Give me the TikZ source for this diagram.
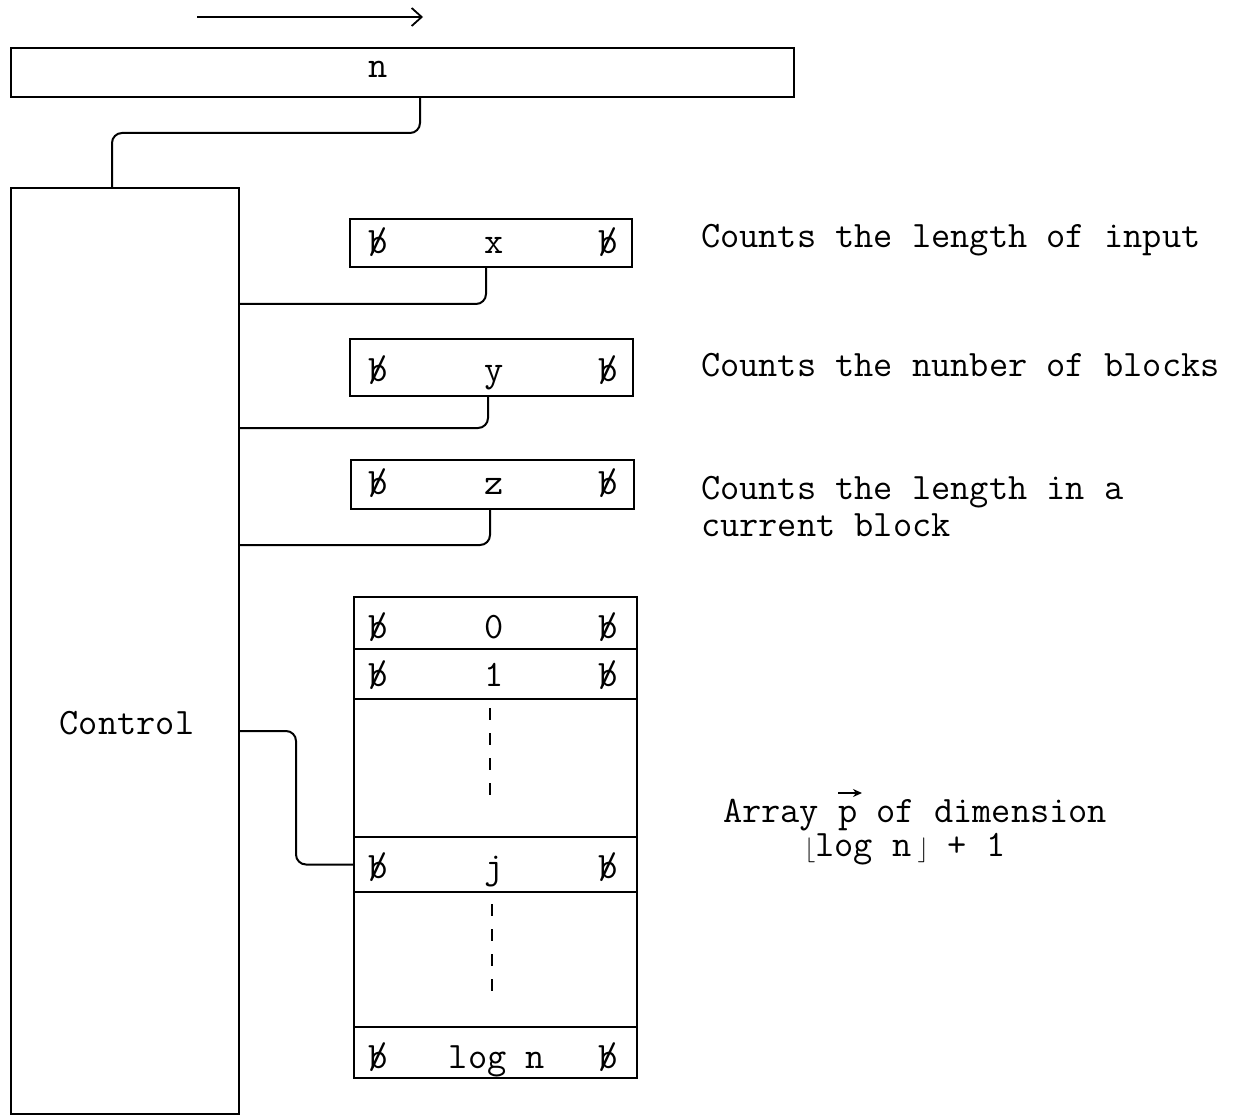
\documentclass[tikz,border=0pt]{standalone}
\usepackage{fontspec}
\usetikzlibrary{calc,arrows.meta}
\newcommand\blnk{\ooalign{b\cr\hidewidth/\hidewidth\cr}}
\begin{document}
\begin{tikzpicture}[x=1pt,y=-1pt,line width=2pt,
  box/.style={draw,rectangle,inner sep=0pt,anchor=north west},
  txt/.style={inner sep=0pt,anchor=base,font=\ttfamily\fontsize{37.3}{37}\selectfont},
  ltxt/.style={txt,anchor=base west},
  wire/.style={rounded corners=10pt},
  gapdash/.style={line width=1.6pt,dash pattern=on 12pt off 13pt}]
\useasboundingbox (0,0) rectangle (1234,1115);

% direction arrow
\coordinate (arrL) at (197,17);
\coordinate (arrR) at (423,17);
\draw[line width=1.8pt,-{Straight Barb[length=10pt,width=18pt]}] (arrL) -- (arrR);

% input tape
\node[box,minimum width=783,minimum height=49] (tape) at (10,47) {};
\node[txt] (tn) at (378,78) {n};

% control
\node[box,minimum width=228,minimum height=926] (ctrl) at (10,187) {};
\node[txt] (ctext) at (127,734) {Control};

% registers
\node[box,minimum width=282,minimum height=48] (rx) at (349,218) {};
\node[box,minimum width=283,minimum height=57] (ry) at (349,338) {};
\node[box,minimum width=283,minimum height=49] (rz) at (350,459) {};
\node[txt] (rxl) at (378,254) {\blnk};
\node[txt] (rxc) at (494,254) {x};
\node[txt] (rxr) at (608,254) {\blnk};
\node[txt] (ryl) at (378,381) {\blnk};
\node[txt] (ryc) at (494,381) {y};
\node[txt] (ryr) at (608,381) {\blnk};
\node[txt] (rzl) at (378,494) {\blnk};
\node[txt] (rzc) at (494,494) {z};
\node[txt] (rzr) at (608,494) {\blnk};

% array p
\node[box,minimum width=283,minimum height=52] (a0) at (353,596) {};
\node[box,minimum width=283,minimum height=50] (a1) at (353,648) {};
\node[box,minimum width=283,minimum height=138] (g1) at (353,698) {};
\node[box,minimum width=283,minimum height=55] (aj) at (353,836) {};
\node[box,minimum width=283,minimum height=135] (g2) at (353,891) {};
\node[box,minimum width=283,minimum height=51] (alog) at (353,1026) {};
\node[txt] (a0l) at (378,638) {\blnk};
\node[txt] (a0c) at (494,638) {0};
\node[txt] (a0r) at (608,638) {\blnk};
\node[txt] (a1l) at (378,686) {\blnk};
\node[txt] (a1c) at (494,686) {1};
\node[txt] (a1r) at (608,686) {\blnk};
\node[txt] (ajl) at (378,878) {\blnk};
\node[txt] (ajc) at (494,878) {j};
\node[txt] (ajr) at (608,878) {\blnk};
\node[txt] (alogl) at (378,1068) {\blnk};
\node[txt] (alogc) at (497,1068) {log n};
\node[txt] (alogr) at (608,1068) {\blnk};
\draw[gapdash] (490,0 |- g1.north) ++(0,10) -- (490,800);
\draw[gapdash] (492,0 |- g2.north) ++(0,13) -- (492,1002);

% connectors
\draw[wire] (420,0 |- tape.south) -- (420,133) -- (112,133) -- (112,0 |- ctrl.north);
\draw[wire] (486,0 |- rx.south) |- (ctrl.east |- 0,304);
\draw[wire] (488,0 |- ry.south) |- (ctrl.east |- 0,428);
\draw[wire] (490,0 |- rz.south) |- (ctrl.east |- 0,545);
\draw[wire] (ctrl.east |- 0,731) -- (296,731) -- (296,0 |- aj.west) -- (aj.west);

% annotations
\node[ltxt] (n1) at (700,248) {Counts the length of input};
\node[ltxt] (n2) at (700,376) {Counts the nunber of blocks};
\node[ltxt,align=left] (n3) at (700,536) {Counts the length in a\\current block};
\node[ltxt] (n5) at (722,822) {Array p of dimension};
\draw[-{Stealth[length=9pt,width=8pt]},line width=2.2pt] (838,793) -- (862,793);
\node[txt] (n6) at (905,856) {{$\Big\lfloor$}log n\,{$\Big\rfloor$} + 1};
\end{tikzpicture}
\end{document}
